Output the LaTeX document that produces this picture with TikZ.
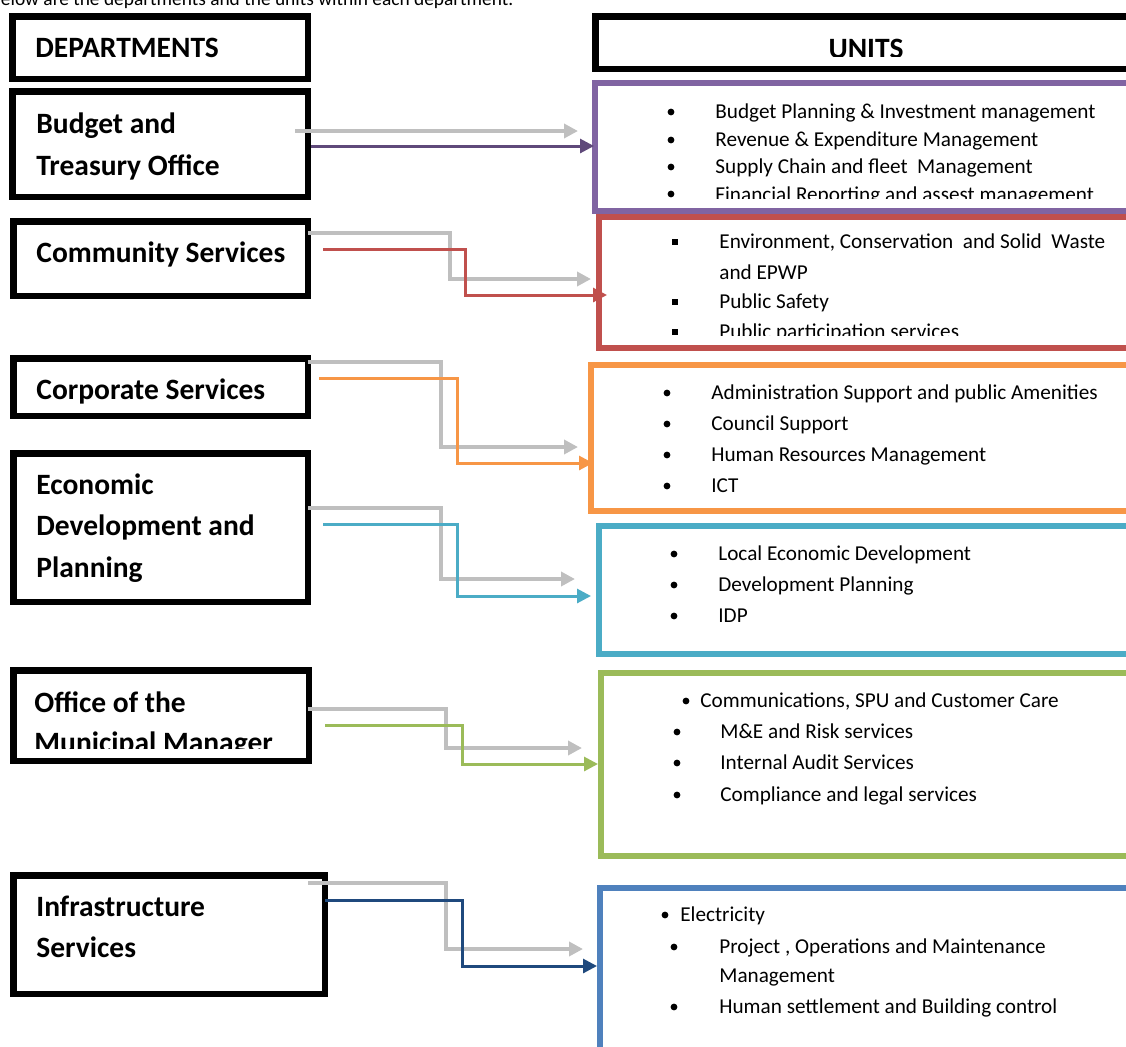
\documentclass[tikz,border=0pt]{standalone}
\usepackage{fontspec}
\setmainfont{Carlito}
\usetikzlibrary{arrows.meta,fit}
\definecolor{cpurple}{HTML}{8064A2}
\definecolor{cpurpled}{HTML}{5F497A}
\definecolor{cred}{HTML}{C0504D}
\definecolor{corange}{HTML}{F79646}
\definecolor{caqua}{HTML}{4BACC6}
\definecolor{cgreen}{HTML}{9BBB59}
\definecolor{cblue}{HTML}{4F81BD}
\definecolor{cblued}{HTML}{1F497D}
\definecolor{cgray}{HTML}{BFBFBF}
\newcommand\deptfont{\fontsize{14.75pt}{16pt}\selectfont\bfseries}
\newcommand\unitfont{\fontsize{10.6pt}{12pt}\selectfont}
\newcommand\introfont{\fontsize{9.7pt}{11pt}\selectfont}
\newcommand\bul[3]{\node[bulletdot] (#1) at (#2,#3) {};}
\newcommand\sqb[3]{\node[bulletsq] (#1) at (#2,#3) {};}
\begin{document}
\begin{tikzpicture}[x=0.5pt,y=-0.5pt,
  deptbox/.style={draw=black,line width=3.25pt,inner sep=0pt,outer sep=0pt},
  unitbox/.style={line width=3pt,inner sep=0pt,outer sep=0pt},
  dtext/.style={anchor=base west,inner sep=0pt,font=\deptfont},
  utext/.style={anchor=base west,inner sep=0pt,font=\unitfont},
  bulletdot/.style={circle,fill=black,inner sep=0pt,minimum size=3.4pt},
  bulletsq/.style={rectangle,fill=black,inner sep=0pt,minimum size=3.1pt},
  garr/.style={draw=cgray,line width=1.75pt,-{Triangle[length=7pt,width=7pt]}},
  carr/.style={line width=1.5pt,-{Triangle[length=7pt,width=7pt]}}]
\useasboundingbox (0,0) rectangle (1126,1046);

% top sentence (partly outside the page, as in the reference)
\node[anchor=base west,inner sep=0pt,font=\introfont] (intro) at (-10,5) {Below are the departments and the units within each department.};

% ---------- department boxes ----------
\node[deptbox,fit={(12.25,16.25)(307.75,78.75)}] (dhead) {};
\node[dtext] (tdhead) at (35,57) {DEPARTMENTS};

\node[deptbox,fit={(12.25,91.25)(307.75,196.75)}] (d1) {};
\node[dtext] (t1a) at (36,133) {Budget and};
\node[dtext] (t1b) at (36,175) {Treasury Office};

\node[deptbox,fit={(13.25,221.25)(307.75,295.75)}] (d2) {};
\node[dtext] (t2a) at (36,262) {Community Services};

\node[deptbox,fit={(13.25,358.25)(307.75,415.75)}] (d3) {};
\node[dtext] (t3a) at (36,399) {Corporate Services};

\node[deptbox,fit={(13.25,453.25)(307.75,601.75)}] (d4) {};
\node[dtext] (t4a) at (36,494) {Economic};
\node[dtext] (t4b) at (36,535) {Development and};
\node[dtext] (t4c) at (36,577) {Planning};

\node[deptbox,fit={(13.25,670.25)(308.75,760.75)}] (d5) {};
\node[dtext] (t5a) at (34,712) {Office of the};
\begin{scope}
\clip (0,720) rectangle (320,748);
\node[dtext] (t5b) at (34,752) {Municipal Manager};
\end{scope}

\node[deptbox,fit={(13.25,875.25)(324.75,993.75)}] (d6) {};
\node[dtext] (t6a) at (36,916) {Infrastructure};
\node[dtext] (t6b) at (36,957) {Services};

% ---------- unit boxes ----------
\node[deptbox,fit={(595.25,16.25)(1145,68.75)}] (uhead) {};
\begin{scope}
\clip (600,20) rectangle (1126,56);
\node[anchor=base,inner sep=0pt,font=\deptfont] (tuhead) at (866,58) {UNITS};
\end{scope}

\node[unitbox,draw=cpurple,fit={(595,83)(1145,211)}] (u1) {};
\bul{b11}{671}{112}\node[utext] (s11) at (715,118) {Budget Planning \& Investment management};
\bul{b12}{671}{140}\node[utext] (s12) at (715,146) {Revenue \& Expenditure Management};
\bul{b13}{671}{167}\node[utext] (s13) at (715,173) {Supply Chain and fleet\ \ Management};
\bul{b14}{671}{194}
\begin{scope}
\clip (600,180) rectangle (1126,198);
\node[utext] (s14) at (715,201) {Financial Reporting and assest management};
\end{scope}

\node[unitbox,draw=cred,fit={(599,217)(1145,348)}] (u2) {};
\sqb{b21}{675}{242}\node[utext] (s21) at (719,248) {Environment, Conservation\ \ and Solid\ \ Waste};
\node[utext] (s21b) at (719,279) {and EPWP};
\sqb{b22}{675}{302}\node[utext] (s22) at (719,308) {Public Safety};
\begin{scope}
\clip (600,315) rectangle (1126,335);
\sqb{b23}{675}{332}\node[utext] (s23) at (719,338) {Public participation services};
\end{scope}

\node[unitbox,draw=corange,fit={(591,365)(1145,511)}] (u3) {};
\bul{b31}{667}{393}\node[utext] (s31) at (711,399) {Administration Support and public Amenities};
\bul{b32}{667}{424}\node[utext] (s32) at (711,430) {Council Support};
\bul{b33}{667}{455}\node[utext] (s33) at (711,461) {Human Resources Management};
\bul{b34}{667}{486}\node[utext] (s34) at (711,492) {ICT};

\node[unitbox,draw=caqua,fit={(599,526)(1145,654)}] (u4) {};
\bul{b41}{674}{554}\node[utext] (s41) at (718,560) {Local Economic Development};
\bul{b42}{674}{585}\node[utext] (s42) at (718,591) {Development Planning};
\bul{b43}{674}{616}\node[utext] (s43) at (718,622) {IDP};

\node[unitbox,draw=cgreen,fit={(601,673)(1145,856)}] (u5) {};
\bul{b51}{686}{701}\node[utext] (s51) at (700,707) {Communications, SPU and Customer Care};
\bul{b52}{677}{732}\node[utext] (s52) at (720,738) {M\&E and Risk services};
\bul{b53}{677}{763}\node[utext] (s53) at (720,769) {Internal Audit Services};
\bul{b54}{677}{795}\node[utext] (s54) at (720,801) {Compliance and legal services};

\node[unitbox,draw=cblue,fit={(600,888)(1145,1070)}] (u6) {};
\bul{b61}{665}{915}\node[utext] (s61) at (680,921) {Electricity};
\bul{b62}{674}{947}\node[utext] (s62) at (719,953) {Project , Operations and Maintenance};
\node[utext] (s62b) at (719,982) {Management};
\bul{b63}{674}{1007}\node[utext] (s63) at (719,1013) {Human settlement and Building control};

% ---------- connectors ----------
\coordinate (g1s) at (295,131);  \coordinate (g1e) at (578,131);
\coordinate (c1s) at (311,146);  \coordinate (c1e) at (594,146);
\draw[garr] (g1s) -- (g1e);
\draw[carr,draw=cpurpled,fill=cpurpled] (c1s) -- (c1e);

\coordinate (g2s) at (308,233);  \coordinate (g2e) at (591,279);
\coordinate (c2s) at (323,249);  \coordinate (c2e) at (607,295);
\draw[garr] (g2s) -- (450,233) -- (450,279) -- (g2e);
\draw[carr,draw=cred] (c2s) -- (465,249) -- (465,295) -- (c2e);

\coordinate (g3s) at (308,362);  \coordinate (g3e) at (578,447);
\coordinate (c3s) at (319,378);  \coordinate (c3e) at (593,463);
\draw[garr] (g3s) -- (441,362) -- (441,447) -- (g3e);
\draw[carr,draw=corange] (c3s) -- (457,378) -- (457,463) -- (c3e);

\coordinate (g4s) at (308,508);  \coordinate (g4e) at (575,579);
\coordinate (c4s) at (323,524);  \coordinate (c4e) at (591,596);
\draw[garr] (g4s) -- (441,508) -- (441,579) -- (g4e);
\draw[carr,draw=caqua] (c4s) -- (457,524) -- (457,596) -- (c4e);

\coordinate (g5s) at (308,709);  \coordinate (g5e) at (582,748);
\coordinate (c5s) at (325,725);  \coordinate (c5e) at (598,764);
\draw[garr] (g5s) -- (446,709) -- (446,748) -- (g5e);
\draw[carr,draw=cgreen] (c5s) -- (462,725) -- (462,764) -- (c5e);

\coordinate (g6s) at (308,883);  \coordinate (g6e) at (583,949);
\coordinate (c6s) at (325,900);  \coordinate (c6e) at (597,966);
\draw[garr] (g6s) -- (446,883) -- (446,949) -- (g6e);
\draw[carr,draw=cblued] (c6s) -- (462,900) -- (462,966) -- (c6e);
\end{tikzpicture}
\end{document}
